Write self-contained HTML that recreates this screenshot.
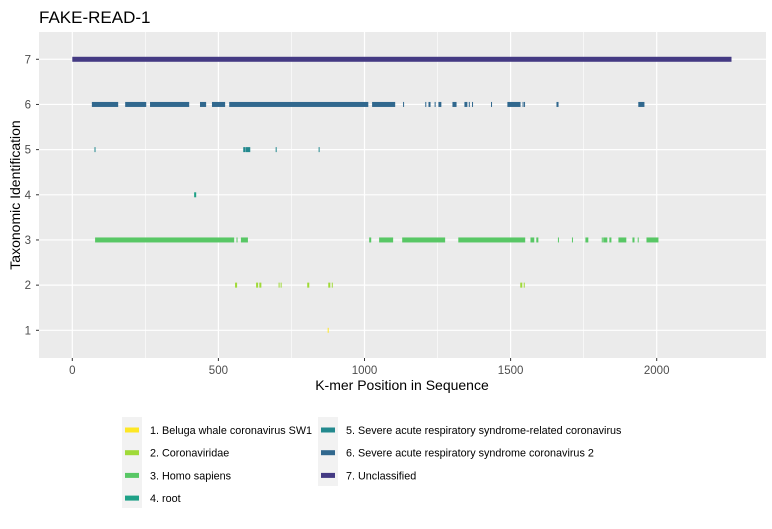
<!DOCTYPE html>
<html><head><meta charset="utf-8"><style>
body{margin:0;background:#fff;}
svg text{font-family:"Liberation Sans",Arial,sans-serif;}
</style></head><body>
<svg id="chart" width="772" height="524" xmlns="http://www.w3.org/2000/svg">
<rect width="772" height="524" fill="#fff"/>
<text x="39" y="23" font-size="17" fill="#000">FAKE-READ-1</text>
<rect x="39" y="32" width="727" height="326" fill="#EBEBEB"/>
<g id="grid"></g>
<g id="marks"></g>
<g id="axes"></g>
<text x="402" y="390" font-size="14" text-anchor="middle" fill="#000">K-mer Position in Sequence</text>
<text transform="translate(20,195) rotate(-90)" font-size="14" text-anchor="middle" fill="#000">Taxonomic Identification</text>
<g id="legend"></g>
</svg>
<script>
const categories=[1,2,3,4,5,6,7];
const legendLabels=["1. Beluga whale coronavirus SW1","2. Coronaviridae","3. Homo sapiens","4. root","5. Severe acute respiratory syndrome-related coronavirus","6. Severe acute respiratory syndrome coronavirus 2","7. Unclassified"];
const colors=["#FDE725","#A0DA39","#58C765","#1FA187","#23898E","#31688E","#443A83"];
const xTicks=[0,500,1000,1500,2000];
const yTicks=[1,2,3,4,5,6,7];
const row1=[[874,877]];
const row2=[[557,564],[629,636],[640,647],[706,709],[713,716],[804,811],[876,883],[888,891],[1533,1540],[1545,1548]];
const row3=[[78,554],[562,565],[577,601],[1016,1023],[1050,1098],[1129,1276],[1321,1550],[1568,1581],[1588,1595],[1662,1665],[1710,1713],[1756,1766],[1812,1815],[1817,1831],[1838,1845],[1869,1896],[1917,1924],[1935,1938],[1965,2006]];
const row4=[[417,424]];
const row5=[[76,79],[585,592],[593,609],[696,699],[843,846]];
const row6=[[67,157],[181,253],[266,400],[437,458],[478,523],[537,1013],[1026,1105],[1132,1135],[1208,1211],[1219,1226],[1240,1243],[1253,1263],[1301,1315],[1342,1352],[1357,1360],[1368,1371],[1433,1436],[1489,1534],[1541,1544],[1546,1549],[1657,1664],[1937,1958]];
const row7=[[0,2256]];
const rows=[row1,row2,row3,row4,row5,row6,row7];

const NS="http://www.w3.org/2000/svg";
const X=v=>72.3+0.2922*v;
const Y=c=>330.3-(c-1)*45.17;
function mk(tag,attrs,parent){const e=document.createElementNS(NS,tag);for(const k in attrs)e.setAttribute(k,attrs[k]);parent.appendChild(e);return e;}
const grid=document.getElementById('grid'),marks=document.getElementById('marks'),axes=document.getElementById('axes'),legend=document.getElementById('legend');
for(let i=0;i<xTicks.length-1;i++){const m=(xTicks[i]+xTicks[i+1])/2;
 const l=mk('line',{x1:X(m),x2:X(m),y1:32,y2:358,stroke:'#fff','stroke-width':0.6},grid);
 
 }
xTicks.forEach(t=>{
 const l=mk('line',{x1:X(t),x2:X(t),y1:32,y2:358,stroke:'#fff','stroke-width':1.2},grid);
 
 
 const tk=mk('line',{x1:X(t),x2:X(t),y1:358,y2:361,stroke:'#333','stroke-width':1},axes);
 
 
 const tx=mk('text',{x:X(t),y:374,'font-size':11.5,'text-anchor':'middle',fill:'#4D4D4D'},axes);
 tx.textContent=t;
 
 
});
yTicks.forEach(t=>{
 const l=mk('line',{x1:39,x2:766,y1:Y(t),y2:Y(t),stroke:'#fff','stroke-width':1.2},grid);
 
 
 const tk=mk('line',{x1:36,x2:39,y1:Y(t),y2:Y(t),stroke:'#333','stroke-width':1},axes);
 
 
 const tx=mk('text',{x:31,y:Y(t)+4,'font-size':11.5,'text-anchor':'end',fill:'#4D4D4D'},axes);
 tx.textContent=t;
 
 
});
rows.forEach((segs,i)=>{
 const c=categories[i];
 segs.forEach(s=>{
  const w=Math.max(1,X(s[1])-X(s[0]));
  const r=mk('rect',{x:X(s[0]),y:Y(c)-2.5,width:w,height:5,fill:colors[i]},marks);
  
  
 });
});
const bg1=mk('rect',{x:122,y:417,width:20,height:91,fill:'#F2F2F2'},legend);


const bg2=mk('rect',{x:318,y:417,width:20,height:69,fill:'#F2F2F2'},legend);


legendLabels.forEach((lab,i)=>{
 const col=i<4?0:1, r=i<4?i:i-4;
 const kx=col?318:122, tx=col?346:150, cy=430+r*22.7;
 const k=mk('rect',{x:kx+3,y:cy-2.5,width:14,height:5,fill:colors[i]},legend);
 
 
 const t=mk('text',{x:tx,y:cy+4,'font-size':10.8,fill:'#000'},legend);
 t.textContent=lab;
 
 
});
</script>
</body></html>
